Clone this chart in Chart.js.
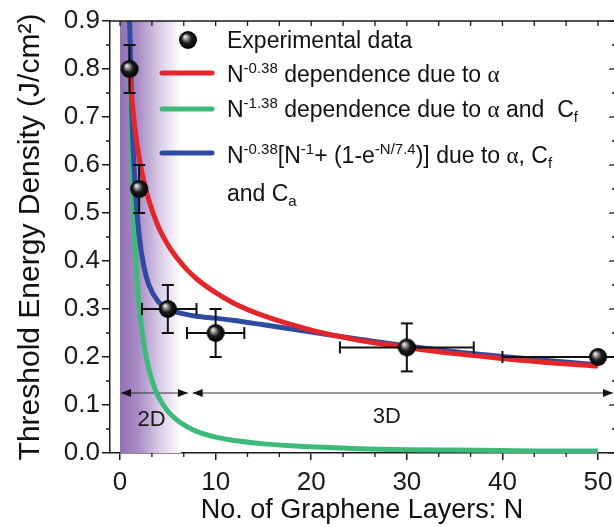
<!DOCTYPE html>
<html>
<head>
<meta charset="utf-8">
<script src="https://cdn.jsdelivr.net/npm/chart.js@4"></script>
<style>
  html, body { margin: 0; padding: 0; background: #fff; }
  #chart { display: block; }
</style>
</head>
<body>
<canvas id="chart" width="614" height="527"></canvas>
<script>
// experimental points (N, threshold) with error bars
const nExp = [1, 2, 5, 10, 30, 50];
const eExp = [0.80, 0.55, 0.30, 0.25, 0.22, 0.20];
const yErr = [0.05, 0.05, 0.05, 0.05, 0.05, 0];
const xErrLo = [0, 0, 2.7, 3, 7, 10];
const xErrHi = [0, 0, 3, 3, 7, 10];

// red curve: N^-0.38
const redN = [1, 1.25, 1.5, 2, 2.5, 3, 4, 5, 6, 7, 8, 10, 12, 15, 20, 25, 30, 35, 40, 45, 50];
const redE = [0.80, 0.735, 0.686, 0.615, 0.565, 0.527, 0.472, 0.434, 0.405, 0.382, 0.363, 0.334, 0.311, 0.286, 0.256, 0.235, 0.220, 0.207, 0.197, 0.188, 0.181];

// green curve: N^-1.38
const greenN = [1, 1.25, 1.5, 1.75, 2, 2.5, 3, 3.5, 4, 5, 6, 7, 8, 10, 12, 15, 20, 25, 30, 35, 40, 45, 50];
const greenE = [0.80, 0.588, 0.457, 0.370, 0.307, 0.226, 0.176, 0.142, 0.118, 0.087, 0.068, 0.055, 0.045, 0.033, 0.026, 0.019, 0.013, 0.009, 0.007, 0.006, 0.005, 0.004, 0.004];

// blue curve: N^-0.38[N^-1 + (1-e^-N/7.4)]
const blueN = [0.9, 1, 1.25, 1.5, 2, 2.5, 3, 4, 5, 6, 8, 10, 12, 15, 20, 25, 30, 35, 40, 45, 50];
const blueE = [1.02, 0.90, 0.702, 0.583, 0.453, 0.388, 0.351, 0.315, 0.300, 0.293, 0.285, 0.281, 0.276, 0.267, 0.252, 0.237, 0.223, 0.211, 0.201, 0.192, 0.184];

const xTickVals = [0, 10, 20, 30, 40, 50];
const yTickVals = [0, 0.1, 0.2, 0.3, 0.4, 0.5, 0.6, 0.7, 0.8, 0.9];

const FONT = '"Liberation Sans", Arial, Helvetica, sans-serif';
const SERIF = '"Liberation Serif", "Times New Roman", serif';
const AXIS = '#1a1a1a';

function toXY(xs, ys) {
    return xs.map((v, i) => ({ x: v, y: ys[i] }));
}

function makeSphere(r) {
    const c = document.createElement('canvas');
    c.width = c.height = r * 2 + 2;
    const g = c.getContext('2d');
    const cx = r + 1, cy = r + 1;
    const grad = g.createRadialGradient(cx - r * 0.35, cy - r * 0.4, 0, cx, cy, r);
    grad.addColorStop(0, '#ffffff');
    grad.addColorStop(0.2, '#b0b0b0');
    grad.addColorStop(0.55, '#1e1e1e');
    grad.addColorStop(1, '#000000');
    g.fillStyle = grad;
    g.beginPath();
    g.arc(cx, cy, r, 0, Math.PI * 2);
    g.fill();
    return c;
}
const sphere = makeSphere(9);

// purple band behind the 2D region, plus the 2D / 3D arrows
const shade = {
    id: 'shade',
    beforeDatasetsDraw(chart) {
        const { ctx, chartArea: a, scales: { x, y } } = chart;
        const x0 = x.getPixelForValue(0), x1 = x.getPixelForValue(6.4);
        const g = ctx.createLinearGradient(x0, 0, x1, 0);
        g.addColorStop(0, '#9170b3');
        g.addColorStop(0.3, '#a98dc6');
        g.addColorStop(0.65, '#dacce7');
        g.addColorStop(1, '#ffffff');
        ctx.save();
        ctx.fillStyle = g;
        ctx.fillRect(x0, a.top, x1 - x0, a.bottom - a.top);

        const yA = y.getPixelForValue(0.125);
        ctx.strokeStyle = '#333';
        ctx.fillStyle = '#111';
        ctx.lineWidth = 1;
        const arrow = (xa, xb) => {
            ctx.beginPath();
            ctx.moveTo(xa, yA);
            ctx.lineTo(xb, yA);
            ctx.stroke();
            [[xa, 1], [xb, -1]].forEach(([tip, d]) => {
                ctx.beginPath();
                ctx.moveTo(tip, yA);
                ctx.lineTo(tip + d * 10, yA - 4);
                ctx.lineTo(tip + d * 10, yA + 4);
                ctx.closePath();
                ctx.fill();
            });
        };
        arrow(x.getPixelForValue(0.1), x.getPixelForValue(7.1));
        arrow(x.getPixelForValue(7.6), a.right - 1);

        ctx.font = '22px ' + FONT;
        ctx.fillStyle = '#1a1a1a';
        ctx.textAlign = 'center';
        ctx.textBaseline = 'middle';
        ctx.fillText('2D', x.getPixelForValue(3.3), y.getPixelForValue(0.069));
        ctx.fillText('3D', x.getPixelForValue(27.9), y.getPixelForValue(0.076));
        ctx.restore();
    }
};

const errorBars = {
    id: 'errorBars',
    beforeDatasetDraw(chart, args) {
        if (args.index !== 0) return;
        const { ctx, chartArea: a, scales: { x, y } } = chart;
        ctx.save();
        ctx.beginPath();
        ctx.rect(a.left, a.top, a.right - a.left, a.bottom - a.top);
        ctx.clip();
        ctx.strokeStyle = '#111';
        ctx.lineWidth = 2;
        const seg = (x1, y1, x2, y2) => {
            ctx.beginPath();
            ctx.moveTo(x1, y1);
            ctx.lineTo(x2, y2);
            ctx.stroke();
        };
        nExp.forEach((n, i) => {
            const px = x.getPixelForValue(n), py = y.getPixelForValue(eExp[i]);
            if (yErr[i] > 0) {
                const t = y.getPixelForValue(eExp[i] + yErr[i]);
                const b = y.getPixelForValue(eExp[i] - yErr[i]);
                seg(px, t, px, b);
                seg(px - 6, t, px + 6, t);
                seg(px - 6, b, px + 6, b);
            }
            if (xErrLo[i] > 0) {
                const l = x.getPixelForValue(n - xErrLo[i]);
                const r = x.getPixelForValue(n + xErrHi[i]);
                seg(l, py, r, py);
                seg(l, py - 6, l, py + 6);
                seg(r, py - 6, r, py + 6);
            }
        });
        ctx.restore();
    }
};

// minor ticks plus inward ticks on the top and right edges
const frame = {
    id: 'frame',
    afterDraw(chart) {
        const { ctx, chartArea: a, scales: { x, y } } = chart;
        ctx.save();
        ctx.strokeStyle = AXIS;
        ctx.lineWidth = 1.5;
        ctx.beginPath();
        ctx.moveTo(a.left, a.top);
        ctx.lineTo(a.right, a.top);
        ctx.stroke();
        ctx.lineWidth = 1.3;
        const rx = a.right + 2;
        for (let k = 0; k <= 15; k++) {
            const px = x.getPixelForValue(k * 10 / 3);
            ctx.beginPath();
            ctx.moveTo(px, a.top);
            ctx.lineTo(px, a.top + 5);
            if (k % 3 !== 0) {
                ctx.moveTo(px, a.bottom);
                ctx.lineTo(px, a.bottom + 4);
            }
            ctx.stroke();
        }
        for (let k = 0; k <= 18; k++) {
            const py = y.getPixelForValue(k * 0.05);
            ctx.beginPath();
            ctx.moveTo(rx, py);
            ctx.lineTo(rx - (k % 2 ? 4 : 7), py);
            if (k % 2) {
                ctx.moveTo(a.left, py);
                ctx.lineTo(a.left - 4, py);
            }
            ctx.stroke();
        }
        ctx.restore();
    }
};

// rich text with superscripts / subscripts
function drawRich(ctx, x, y, parts) {
    parts.forEach(p => {
        let size = 23, dy = 0, fam = FONT;
        if (p.sup) { size = 15; dy = -9; }
        if (p.sub) { size = 15; dy = 5; }
        if (p.greek) fam = SERIF;
        ctx.font = size + 'px ' + fam;
        ctx.fillText(p.t, x, y + dy);
        x += ctx.measureText(p.t).width;
    });
}

const legendBox = {
    id: 'legendBox',
    afterDraw(chart) {
        const { ctx } = chart;
        ctx.save();
        ctx.drawImage(sphere, 188 - 10, 40 - 10);
        ctx.lineCap = 'round';
        ctx.lineWidth = 5;
        [['#e3262a', 73], ['#3dba7a', 109], ['#2f4aa0', 153]].forEach(([c, yy]) => {
            ctx.strokeStyle = c;
            ctx.beginPath();
            ctx.moveTo(162, yy);
            ctx.lineTo(212, yy);
            ctx.stroke();
        });
        ctx.fillStyle = '#111';
        ctx.textBaseline = 'alphabetic';
        ctx.textAlign = 'left';
        const tx = 227;
        drawRich(ctx, tx, 48, [{ t: 'Experimental data' }]);
        drawRich(ctx, tx, 82, [{ t: 'N' }, { t: '-0.38', sup: true }, { t: ' dependence due to ' }, { t: 'α', greek: true }]);
        drawRich(ctx, tx, 117, [{ t: 'N' }, { t: '-1.38', sup: true }, { t: ' dependence due to ' }, { t: 'α', greek: true }, { t: ' and  C' }, { t: 'f', sub: true }]);
        drawRich(ctx, tx, 163, [{ t: 'N' }, { t: '-0.38', sup: true }, { t: '[N' }, { t: '-1', sup: true }, { t: '+ (1-e' }, { t: '-N/7.4', sup: true }, { t: ')] due to ' }, { t: 'α', greek: true }, { t: ', C' }, { t: 'f', sub: true }]);
        drawRich(ctx, tx, 201, [{ t: 'and C' }, { t: 'a', sub: true }]);
        ctx.restore();
    }
};

const lineSet = (label, xs, ys, color, order) => ({
    type: 'line',
    label: label,
    data: toXY(xs, ys),
    borderColor: color,
    borderWidth: 5,
    pointRadius: 0,
    fill: false,
    cubicInterpolationMode: 'monotone',
    clip: 0,
    order: order
});

const canvas = document.getElementById('chart');
new Chart(canvas.getContext('2d'), {
    type: 'scatter',
    data: {
        datasets: [
            {
                label: 'Experimental data',
                data: toXY(nExp, eExp),
                pointStyle: sphere,
                pointRadius: 9,
                clip: false,
                order: 1
            },
            lineSet('N^-0.38', redN, redE, '#e3262a', 2),
            lineSet('N^-0.38[...]', blueN, blueE, '#2f4aa0', 3),
            lineSet('N^-1.38', greenN, greenE, '#3dba7a', 4)
        ]
    },
    options: {
        responsive: false,
        animation: false,
        devicePixelRatio: 1,
        layout: { autoPadding: false, padding: { top: 21, right: 0, left: 0, bottom: 0 } },
        plugins: {
            legend: { display: false },
            tooltip: { enabled: false }
        },
        scales: {
            x: {
                type: 'linear',
                min: -1.05,
                max: 51.67,
                afterBuildTicks: s => { s.ticks = xTickVals.map(v => ({ value: v })); },
                afterFit: s => { s.height = 74; s.paddingLeft = 0; s.paddingRight = 0; },
                ticks: {
                    font: { family: FONT, size: 26 },
                    color: AXIS,
                    padding: 7,
                    maxRotation: 0,
                    autoSkip: false
                },
                grid: { drawOnChartArea: false, tickLength: 7, color: AXIS, lineWidth: 1.5 },
                border: { color: AXIS, width: 1.5 },
                title: {
                    display: true,
                    text: 'No. of Graphene Layers: N',
                    font: { family: FONT, size: 27 },
                    color: '#111',
                    padding: { top: 0, bottom: 0 }
                }
            },
            y: {
                type: 'linear',
                min: 0,
                max: 0.9,
                afterBuildTicks: s => { s.ticks = yTickVals.map(v => ({ value: v })); },
                afterFit: s => { s.width = 110; s.paddingTop = 0; s.paddingBottom = 0; },
                ticks: {
                    font: { family: FONT, size: 26 },
                    color: AXIS,
                    padding: 2,
                    callback: v => v.toFixed(1)
                },
                grid: { drawOnChartArea: false, tickLength: 8, color: AXIS, lineWidth: 1.5 },
                border: { color: AXIS, width: 1.5 },
                title: {
                    display: true,
                    text: 'Threshold Energy Density (J/cm²)',
                    font: { family: FONT, size: 30 },
                    color: '#111',
                    padding: { top: 13, bottom: 0 }
                }
            }
        }
    },
    plugins: [shade, errorBars, frame, legendBox]
});
</script>
</body>
</html>
